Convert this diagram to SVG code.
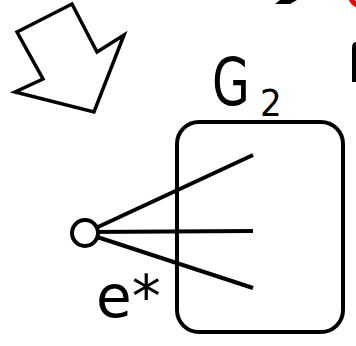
<svg xmlns="http://www.w3.org/2000/svg" width="356" height="346" viewBox="0 0 356 346">
<style>
.ln{stroke:#000;stroke-width:4;fill:none;stroke-linecap:butt}
.lbl{font-family:"DejaVu Sans",sans-serif;fill:#000}
</style>
<rect width="356" height="346" fill="#fff"/>
<g id="top-fragments">
<polygon points="280,0 297,0 290,4 275,4" fill="#000"/>
<circle cx="362" cy="-6" r="12" fill="none" stroke="#e00" stroke-width="5"/>
<path d="M352,48 Q352,42 356,42 L356,82 L352,82 Z" fill="#000"/>
</g>
<g id="big-arrow">
<polygon points="17,32 72,4 97,52 124,35 94,112 15,92 43,79" fill="#fff" stroke="#000" stroke-width="3.5" stroke-linejoin="miter"/>
</g>
<g id="G2">
<rect x="177" y="122" width="166" height="210" rx="22" ry="22" class="ln"/>
<text class="lbl" font-size="66" transform="translate(212,105) scale(0.74,1)">G</text>
<text class="lbl" x="260" y="116" font-size="38" transform="translate(260,116) scale(0.9,1) translate(-260,-116)">2</text>
</g>
<g id="connectors">
<line class="ln" x1="85" y1="233" x2="253" y2="155"/>
<line class="ln" x1="85" y1="232" x2="253" y2="231"/>
<line class="ln" x1="85" y1="233" x2="253" y2="288"/>
</g>
<g id="vertex">
<circle cx="85" cy="233" r="13" fill="#fff" stroke="#000" stroke-width="4"/>
<text class="lbl" x="96" y="317" font-size="58">e*</text>
</g>
</svg>
